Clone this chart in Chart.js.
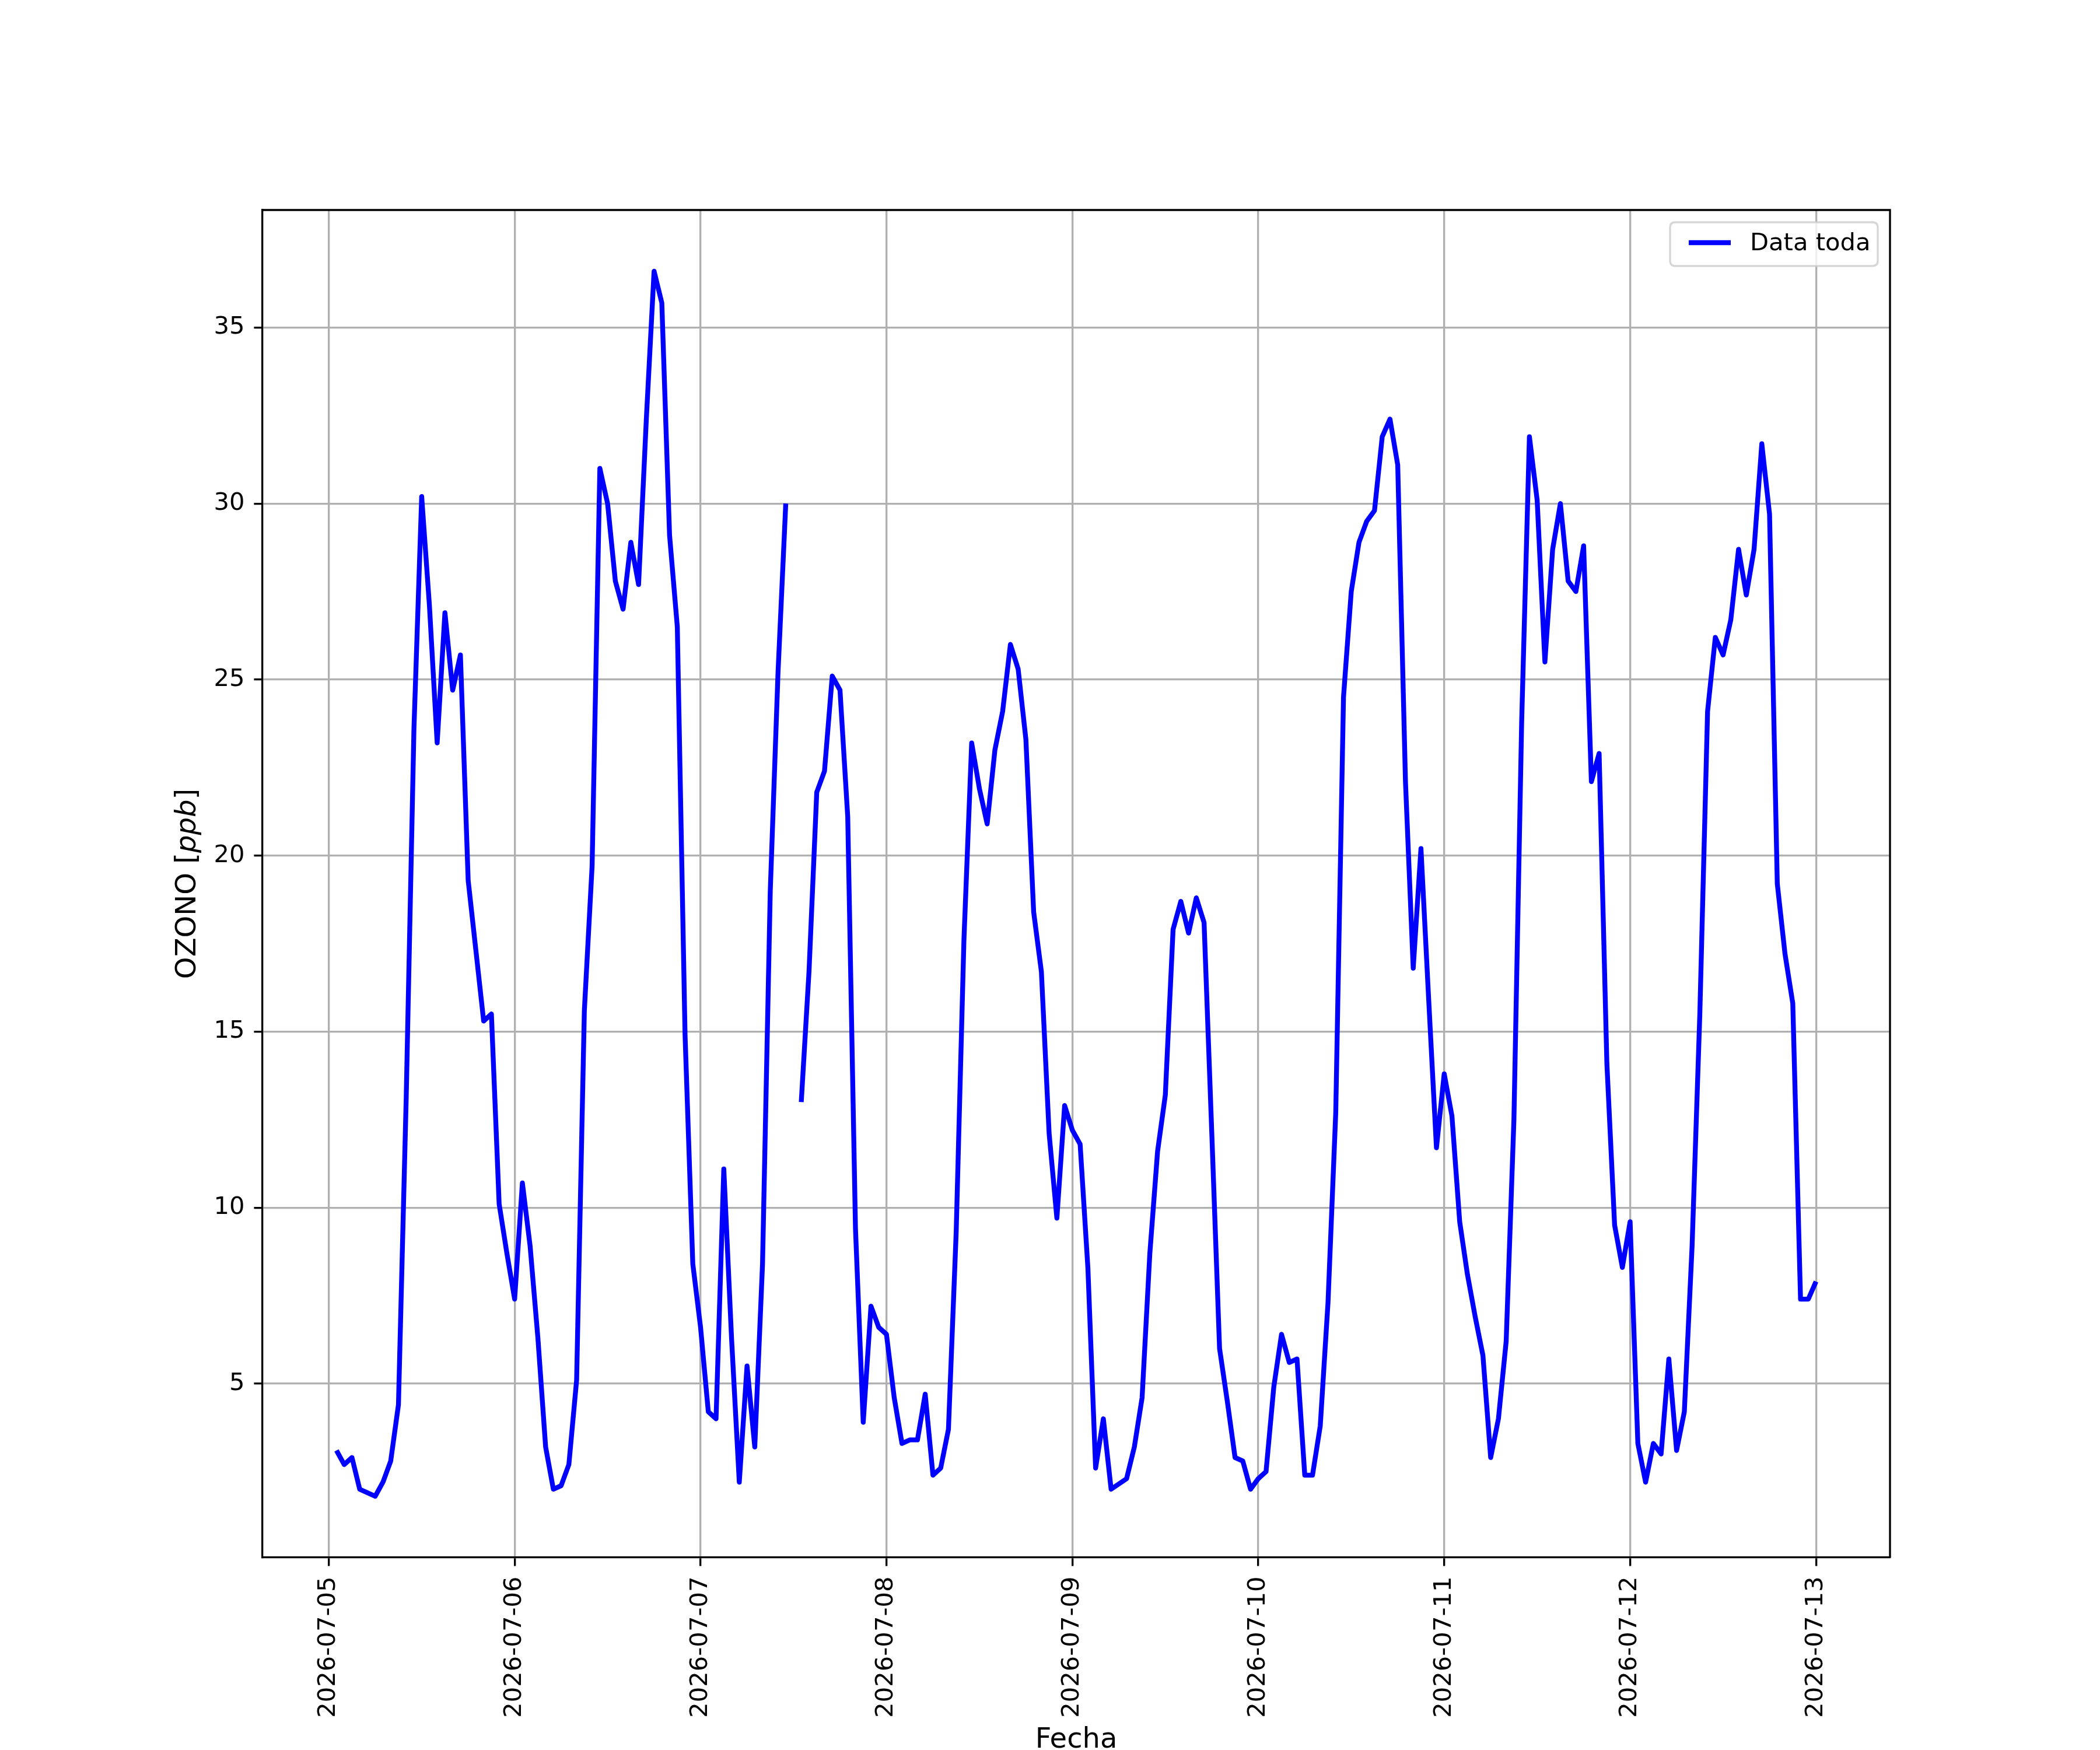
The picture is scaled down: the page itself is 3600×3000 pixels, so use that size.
<!DOCTYPE html>
<html>
<head>
<meta charset="utf-8">
<script src="https://cdn.jsdelivr.net/npm/chart.js@4.4.1/dist/chart.umd.min.js"></script>
<style>
html,body{margin:0;padding:0;background:#ffffff;}
canvas{display:block;}
</style>
</head>
<body>
<canvas id="c" width="3600" height="3000" style="width:3600px;height:3000px"></canvas>
<script>
// ---- data (hourly values, first point at 2026-07-05 01:00) ----
const dayLabels = ['2026-07-05','2026-07-06','2026-07-07','2026-07-08','2026-07-09','2026-07-10','2026-07-11','2026-07-12','2026-07-13'];
const firstHour = 1;
const day05 = [3.1, 2.7, 2.9, 2.0, 1.9, 1.8, 2.2, 2.8, 4.4, 13.1, 23.6, 30.2, 27.1, 23.2, 26.9, 24.7, 25.7, 19.3, 17.3, 15.3, 15.5, 10.1, 8.7, 7.4];
const day06 = [10.7, 8.9, 6.3, 3.2, 2.0, 2.1, 2.7, 5.1, 15.6, 19.7, 31.0, 30.0, 27.8, 27.0, 28.9, 27.7, 32.4, 36.6, 35.7, 29.1, 26.5, 14.9, 8.4, 6.6];
const day07 = [4.2, 4.0, 11.1, 6.3, 2.2, 5.5, 3.2, 8.4, 19.0, 25.2, 30.0, null, 13.0, 16.7, 21.8, 22.4, 25.1, 24.7, 21.1, 9.4, 3.9, 7.2, 6.6, 6.4];
const day08 = [4.6, 3.3, 3.4, 3.4, 4.7, 2.4, 2.6, 3.7, 9.3, 17.6, 23.2, 21.9, 20.9, 23.0, 24.1, 26.0, 25.3, 23.3, 18.4, 16.7, 12.1, 9.7, 12.9, 12.2];
const day09 = [11.8, 8.3, 2.6, 4.0, 2.0, 2.15, 2.3, 3.2, 4.6, 8.7, 11.6, 13.2, 17.9, 18.7, 17.8, 18.8, 18.1, 12.1, 6.0, 4.5, 2.9, 2.8, 2.0, 2.3];
const day10 = [2.5, 4.9, 6.4, 5.6, 5.7, 2.4, 2.4, 3.8, 7.3, 12.7, 24.5, 27.5, 28.9, 29.5, 29.8, 31.9, 32.4, 31.1, 22.1, 16.8, 20.2, 15.9, 11.7, 13.8];
const day11 = [12.6, 9.6, 8.1, 6.9, 5.8, 2.9, 4.0, 6.2, 12.5, 23.8, 31.9, 30.1, 25.5, 28.7, 30.0, 27.8, 27.5, 28.8, 22.1, 22.9, 14.1, 9.5, 8.3, 9.6];
const day12 = [3.3, 2.2, 3.3, 3.0, 5.7, 3.1, 4.2, 8.9, 15.5, 24.1, 26.2, 25.7, 26.7, 28.7, 27.4, 28.7, 31.7, 29.7, 19.2, 17.2, 15.8, 7.4, 7.4, 7.9];
const yTicks = [5, 10, 15, 20, 25, 30, 35];
const seriesLabel = 'Data toda';
const xTitle = 'Fecha';
const yTitleParts = ['OZONO [', 'ppb', ']'];

// ---- build points ----
const allValues = [].concat(day05, day06, day07, day08, day09, day10, day11, day12);
const points = allValues.map((v, i) => ({ x: firstHour + i, y: v }));

const PX = 300 / 72;            // matplotlib pt -> px at 300 dpi
const FONT = 10 * PX;
const TITLE_FONT = 48;
const FAMILY = '"DejaVu Sans", sans-serif';
const AREA = { left: 450, right: 3240, top: 360, bottom: 2670 };

const decorPlugin = {
  id: 'decor',
  afterDraw(chart) {
    const ctx = chart.ctx;
    const ca = chart.chartArea;
    ctx.save();
    // top & right spines
    ctx.strokeStyle = '#000';
    ctx.lineWidth = 0.8 * PX;
    ctx.beginPath();
    ctx.moveTo(ca.left, ca.top);
    ctx.lineTo(ca.right, ca.top);
    ctx.lineTo(ca.right, ca.bottom);
    ctx.stroke();

    // legend
    const lx = 2863, ly = 381, lw = 356, lh = 75, r = 9;
    ctx.beginPath();
    ctx.moveTo(lx + r, ly);
    ctx.lineTo(lx + lw - r, ly);
    ctx.quadraticCurveTo(lx + lw, ly, lx + lw, ly + r);
    ctx.lineTo(lx + lw, ly + lh - r);
    ctx.quadraticCurveTo(lx + lw, ly + lh, lx + lw - r, ly + lh);
    ctx.lineTo(lx + r, ly + lh);
    ctx.quadraticCurveTo(lx, ly + lh, lx, ly + lh - r);
    ctx.lineTo(lx, ly + r);
    ctx.quadraticCurveTo(lx, ly, lx + r, ly);
    ctx.closePath();
    ctx.fillStyle = 'rgba(255,255,255,0.8)';
    ctx.fill();
    ctx.strokeStyle = 'rgba(204,204,204,0.8)';
    ctx.lineWidth = 0.8 * PX;
    ctx.stroke();
    const ds = chart.data.datasets[0];
    ctx.strokeStyle = ds.borderColor;
    ctx.lineWidth = ds.borderWidth;
    ctx.lineCap = 'butt';
    ctx.beginPath();
    ctx.moveTo(2895, 416);
    ctx.lineTo(2967, 416);
    ctx.stroke();
    ctx.fillStyle = '#000';
    ctx.font = FONT + 'px ' + FAMILY;
    ctx.textAlign = 'left';
    ctx.textBaseline = 'middle';
    ctx.fillText(ds.label, 3000, 418);

    // x title
    ctx.font = TITLE_FONT + 'px ' + FAMILY;
    ctx.textAlign = 'center';
    ctx.textBaseline = 'alphabetic';
    ctx.fillText(xTitle, (ca.left + ca.right) / 2, 2996);

    // y title with italic unit
    const fN = TITLE_FONT + 'px ' + FAMILY;
    const fI = 'italic ' + TITLE_FONT + 'px ' + FAMILY;
    ctx.font = fN; const w0 = ctx.measureText(yTitleParts[0]).width;
    ctx.font = fI; const w1 = ctx.measureText(yTitleParts[1]).width;
    ctx.font = fN; const w2 = ctx.measureText(yTitleParts[2]).width;
    const total = w0 + w1 + w2;
    ctx.translate(335, (ca.top + ca.bottom) / 2);
    ctx.rotate(-Math.PI / 2);
    ctx.textAlign = 'left';
    ctx.textBaseline = 'alphabetic';
    let x0 = -total / 2;
    ctx.font = fN; ctx.fillText(yTitleParts[0], x0, 0); x0 += w0;
    ctx.font = fI; ctx.fillText(yTitleParts[1], x0, 0); x0 += w1;
    ctx.font = fN; ctx.fillText(yTitleParts[2], x0, 0);
    ctx.restore();
  }
};

const gridCommon = {
  color: '#b0b0b0',
  lineWidth: 0.8 * PX,
  tickLength: 3.5 * PX,
  tickColor: '#000',
  tickWidth: 0.8 * PX,
  drawOnChartArea: true
};

new Chart(document.getElementById('c'), {
  type: 'line',
  data: {
    datasets: [{
      label: seriesLabel,
      data: points,
      borderColor: '#0000ff',
      backgroundColor: '#0000ff',
      borderWidth: 2 * PX,
      pointRadius: 0,
      tension: 0,
      spanGaps: false,
      fill: false,
      borderJoinStyle: 'round',
      borderCapStyle: 'butt'
    }]
  },
  options: {
    responsive: false,
    animation: false,
    devicePixelRatio: 1,
    layout: { padding: { top: AREA.top, right: 3600 - AREA.right, left: 0, bottom: 0 } },
    plugins: { legend: { display: false }, tooltip: { enabled: false } },
    scales: {
      x: {
        type: 'linear',
        min: -8.55,
        max: 201.55,
        afterBuildTicks: (s) => { s.ticks = dayLabels.map((_, i) => ({ value: i * 24 })); },
        afterFit: (s) => { s.height = 3000 - AREA.bottom; },
        ticks: {
          autoSkip: false,
          maxRotation: 90,
          minRotation: 90,
          padding: 18,
          color: '#000',
          font: { family: FAMILY, size: FONT },
          callback: (v) => dayLabels[Math.round(v / 24)]
        },
        grid: gridCommon,
        border: { color: '#000', width: 0.8 * PX }
      },
      y: {
        type: 'linear',
        min: 0.06,
        max: 38.34,
        afterBuildTicks: (s) => { s.ticks = yTicks.map(v => ({ value: v })); },
        afterFit: (s) => { s.width = AREA.left; },
        ticks: {
          padding: 16,
          color: '#000',
          font: { family: FAMILY, size: FONT },
          callback: (v) => String(v)
        },
        grid: gridCommon,
        border: { color: '#000', width: 0.8 * PX }
      }
    }
  },
  plugins: [decorPlugin]
});
</script>
</body>
</html>
